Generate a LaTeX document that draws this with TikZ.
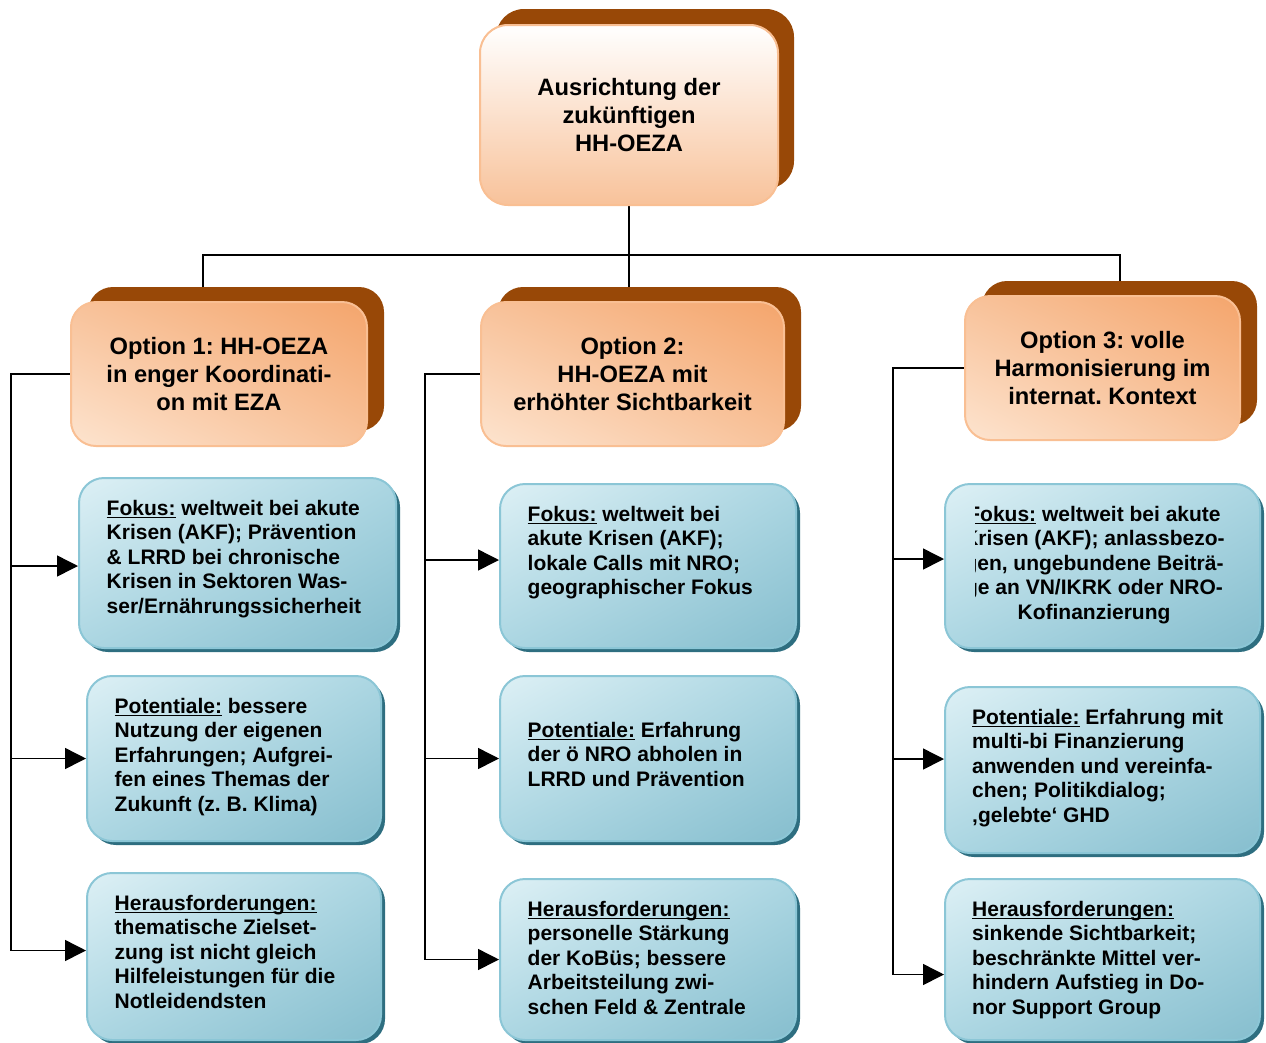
\documentclass[tikz,border=0pt]{standalone}
\usepackage{fontspec}
\setmainfont{Liberation Sans}
\usetikzlibrary{positioning,calc,arrows.meta,shadows,shadings,backgrounds}
\frenchspacing
\definecolor{ozbraun}{HTML}{984807}
\definecolor{ozrand}{HTML}{F9BF93}
\definecolor{ozhell}{HTML}{FDE4CF}
\definecolor{ozmittel}{HTML}{F8C29A}
\definecolor{ozdunkel}{HTML}{F4A56C}
\definecolor{blrand}{HTML}{8BC6D6}
\definecolor{blhell}{HTML}{DDF0F5}
\definecolor{blmittel}{HTML}{ABD6E2}
\definecolor{bldunkel}{HTML}{86BECE}
\definecolor{blschatten}{HTML}{2E6E80}
\newcommand{\titelschrift}{\fontsize{23.7}{28}\selectfont\bfseries}
\newcommand{\textschrift}{\fontsize{21}{24.5}\selectfont\bfseries}
\newcommand{\unterstr}[1]{\underline{\smash{#1}}\vphantom{#1}}
\tikzset{
  kopfbox/.style={draw=ozrand,line width=2pt,rounded corners=28pt,top color=white,bottom color=ozmittel,
    align=center,font=\titelschrift,inner sep=0pt,minimum width=298pt,minimum height=180pt,
    drop shadow={shadow xshift=16pt,shadow yshift=16pt,fill=ozbraun,opacity=1}},
  optbox/.style={draw=ozrand,line width=2pt,rounded corners=25pt,upper left=ozmittel,upper right=ozdunkel,
    lower left=ozhell,lower right=ozmittel,align=center,font=\titelschrift,inner sep=0pt,minimum height=144pt,
    drop shadow={shadow xshift=17pt,shadow yshift=15pt,fill=ozbraun,opacity=1}},
  blaubox/.style={draw=blrand,line width=2pt,rounded corners=25pt,upper left=blhell,upper right=blmittel,
    lower left=blmittel,lower right=bldunkel,inner sep=0pt,
    drop shadow={shadow xshift=4pt,shadow yshift=-4pt,fill=blschatten,opacity=1}},
  fliess/.style={inner sep=0pt,anchor=north west,align=left,font=\textschrift},
  verbinder/.style={black,line width=1.5pt},
  pfeil/.style={-{Triangle[length=21pt,width=21pt]}},
}
\begin{document}
\begin{tikzpicture}[x=1pt,y=-1pt]
  \useasboundingbox (0,0) rectangle (1266,1042);
  % --- Kopf und Optionen
  \node[kopfbox] (kopf) at (629,115) {Ausrichtung der\\zukünftigen\\HH-OEZA};
  \node[optbox,minimum width=296pt] (o1) at (219,374) {Option 1: HH-OEZA\\in enger Koordinati-\\on mit EZA};
  \node[optbox,minimum width=303pt] (o2) at (632.5,374) {Option 2:\\HH-OEZA mit\\erhöhter Sichtbarkeit};
  \node[optbox,minimum width=275pt] (o3) at (1102.5,368) {Option 3: volle\\Harmonisierung im\\internat. Kontext};
  \coordinate (ast1) at (203,255);
  \coordinate (ast3) at (1120,255);
  \coordinate (l1) at (11,0);
  \coordinate (l2) at (425,0);
  \coordinate (l3) at (893,0);
  % --- Spalte 1
  \node[blaubox,minimum width=317pt,minimum height=170pt] (f1) at (237.5,563) {};
  \node[blaubox,minimum width=294pt,minimum height=165pt] (p1) at (234,758.5) {};
  \node[blaubox,minimum width=294pt,minimum height=167pt] (h1) at (234,956.5) {};
  \node[fliess] (f1t) at ([xshift=28.5pt,yshift=-23pt]f1.north west)
    {\unterstr{Fokus:} weltweit bei akute\\Krisen (AKF); Prävention\\\& LRRD bei chronische\\Krisen in Sektoren Was-\\ser/Ernährungssicherheit};
  \node[fliess] (p1t) at ([xshift=28.5pt,yshift=-23pt]p1.north west)
    {\unterstr{Potentiale:} bessere\\Nutzung der eigenen\\Erfahrungen; Aufgrei-\\fen eines Themas der\\Zukunft (z. B. Klima)};
  \node[fliess] (h1t) at ([xshift=28.5pt,yshift=-23pt]h1.north west)
    {\unterstr{Herausforderungen:}\\thematische Zielset-\\zung ist nicht gleich\\Hilfeleistungen für die\\Notleidendsten};
  % --- Spalte 2
  \node[blaubox,minimum width=296pt,minimum height=164pt] (f2) at (648,566) {};
  \node[blaubox,minimum width=296pt,minimum height=165pt] (p2) at (648,758.5) {};
  \node[blaubox,minimum width=296pt,minimum height=161pt] (h2) at (648,959.5) {};
  \node[fliess] (f2t) at ([xshift=28.5pt,yshift=-23pt]f2.north west)
    {\unterstr{Fokus:} weltweit bei\\akute Krisen (AKF);\\lokale Calls mit NRO;\\geographischer Fokus};
  \node[fliess] (p2t) at ([xshift=28.5pt,yshift=-47pt]p2.north west)
    {\unterstr{Potentiale:} Erfahrung\\der ö NRO abholen in\\LRRD und Prävention};
  \node[fliess] (h2t) at ([xshift=28.5pt,yshift=-23pt]h2.north west)
    {\unterstr{Herausforderungen:}\\personelle Stärkung\\der KoBüs; bessere\\Arbeitsteilung zwi-\\schen Feld \& Zentrale};
  % --- Spalte 3
  \node[blaubox,minimum width=315pt,minimum height=164pt] (f3) at (1102.5,566) {};
  \node[blaubox,minimum width=315pt,minimum height=166pt] (p3) at (1102.5,770) {};
  \node[blaubox,minimum width=315pt,minimum height=161pt] (h3) at (1102.5,959.5) {};
  \begin{scope}
    \clip (975,488) rectangle (1262,648);
    \node[fliess,anchor=north,align=center] (f3t) at ([xshift=-8.5pt,yshift=-23pt]f3.north)
      {\unterstr{Fokus:} weltweit bei akute\\Krisen (AKF); anlassbezo-\\gen, ungebundene Beiträ-\\ge an VN/IKRK oder NRO-\\Kofinanzierung};
  \end{scope}
  \node[fliess] (p3t) at ([xshift=28pt,yshift=-23pt]p3.north west)
    {\unterstr{Potentiale:} Erfahrung mit\\multi-bi Finanzierung\\anwenden und vereinfa-\\chen; Politikdialog;\\‚gelebte‘ GHD};
  \node[fliess] (h3t) at ([xshift=28pt,yshift=-23pt]h3.north west)
    {\unterstr{Herausforderungen:}\\sinkende Sichtbarkeit;\\beschränkte Mittel ver-\\hindern Aufstieg in Do-\\nor Support Group};
  % --- Verbindungen
  \begin{scope}[on background layer]
    \draw[verbinder] (kopf.south) -- (kopf.south |- o2.north);
    \draw[verbinder] (ast1 |- o1.north) -- (ast1) -- (ast3) -- (ast3 |- o3.north);
    \foreach \b/\dy in {f1/-3,p1/0,h1/6}
      \draw[verbinder,pfeil] (o1.west) -- (o1.west -| l1) |- ([yshift=\dy pt]\b.west);
    \foreach \b/\dy in {f2/6,p2/0,h2/0}
      \draw[verbinder,pfeil] (o2.west) -- (o2.west -| l2) |- ([yshift=\dy pt]\b.west);
    \foreach \b/\dy in {f3/7,p3/11,h3/-15}
      \draw[verbinder,pfeil] (o3.west) -- (o3.west -| l3) |- ([yshift=\dy pt]\b.west);
  \end{scope}
\end{tikzpicture}
\end{document}
